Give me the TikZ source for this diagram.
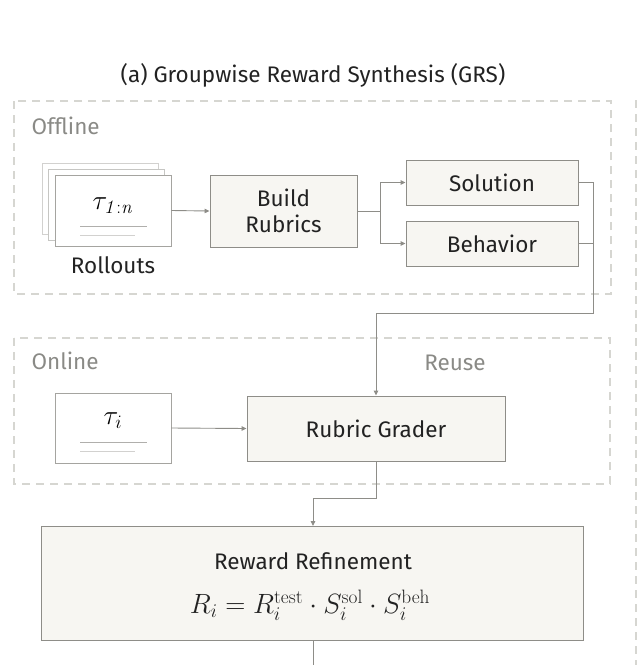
\documentclass[tikz,border=0pt]{standalone}
\usepackage[no-math]{fontspec}
\setmainfont{Fira Sans}
\usetikzlibrary{arrows.meta}
\definecolor{boxfill}{HTML}{F7F6F2}
\definecolor{boxline}{HTML}{8E8D88}
\definecolor{dash}{HTML}{D6D6D1}
\definecolor{lbl}{HTML}{8A8A86}
\definecolor{txt}{HTML}{222222}
\newcommand{\mysz}{\fontsize{22.5}{26}\selectfont}
\begin{document}
\begin{tikzpicture}[x=1pt,y=-1pt,
  box/.style={draw=boxline,fill=boxfill,line width=0.9pt,text=txt,font=\mysz,align=center,inner sep=0},
  paper/.style={draw=boxline!80,fill=white,line width=0.8pt},
  grp/.style={draw=dash,dashed,dash pattern=on 8pt off 6pt,line width=1.6pt},
  conn/.style={draw=boxline,line width=0.9pt},
  arr/.style={conn,-{Triangle[length=5pt,width=4.5pt]}},
  lab/.style={text=lbl,font=\mysz,anchor=west}]
\useasboundingbox (0,0) rectangle (640,665);
\node[font=\mysz,text=txt] (title) at (313,75) {(a) Groupwise Reward Synthesis (GRS)};
% groups
\draw[grp] (14,101) rectangle (611,294);
\draw[grp] (14,338) rectangle (610,484);
\draw[grp] (636,100) -- (636,665);
\node[lab] (off) at (28,126) {Offline};
\node[lab] (on) at (28,361) {Online};
\node[lab,anchor=center] (reuse) at (455,363) {Reuse};
% rollouts
\draw[paper,draw=boxline!40] (42,163) rectangle (158,234);
\draw[paper,draw=boxline!50] (48,169) rectangle (164,240);
\node[paper,minimum width=116pt,minimum height=71pt,inner sep=0] (roll) at (113,210.5) {};
\node[scale=1.1] (tau) at (113,206) {\fontsize{24}{28}\selectfont$\tau_{\mathit{1:n}}$};
\draw[boxline!70,line width=1pt] (80,226) -- (147,226);
\draw[boxline!40,line width=1pt] (80,235) -- (135,235);
\node[text=txt,font=\mysz] (rl) at (113,265) {Rollouts};
\node[box,minimum width=147pt,minimum height=72pt] (build) at (283.5,211) {Build\\Rubrics};
\node[box,minimum width=172pt,minimum height=45pt] (sol) at (492,182.5) {Solution};
\node[box,minimum width=172pt,minimum height=45pt] (beh) at (492,243.5) {Behavior};
\draw[arr] (roll.east) -- (build.west);
\coordinate (sp) at (380,211);
\draw[conn] (build.east) -- (sp);
\draw[arr] (sp) |- (sol.west);
\draw[arr] (sp) |- (beh.west);
% tau_i
\node[paper,minimum width=116pt,minimum height=70pt,inner sep=0] (ti) at (113,428) {};
\node[scale=1.1] (taui) at (113,421) {\fontsize{24}{28}\selectfont$\tau_{i}$};
\draw[boxline!70,line width=1pt] (80,442) -- (147,442);
\draw[boxline!40,line width=1pt] (80,451) -- (135,451);
\node[box,minimum width=258pt,minimum height=65pt] (rg) at (376,428.5) {Rubric Grader};
\draw[arr] (ti.east) -- (rg.west);
% feedback
\coordinate (c1) at (593,182.5);
\coordinate (c2) at (593,313);
\coordinate (c3) at (376,313);
\draw[conn] (sol.east) -- (c1) -- (c2) -- (c3);
\draw[conn] (beh.east) -- (593,243.5);
\draw[arr] (c3) -- (rg.north);
% reward refinement
\node[box,minimum width=542pt,minimum height=114pt] (rr) at (312,583) {};
\node[text=txt,font=\mysz] (rrt) at (313,561) {Reward Refinement};
\node[text=txt,scale=1.12,inner sep=0] (eq) at (310,605) {\fontsize{24}{28}\selectfont$R_i = R_i^{\mathrm{test}}\cdot S_i^{\mathrm{sol}}\cdot S_i^{\mathrm{beh}}$};
\coordinate (d1) at (376,498);
\coordinate (d2) at (313,498);
\draw[conn] (rg.south) -- (d1) -- (d2);
\draw[arr] (d2) -- (313,526);
\coordinate (bot) at (313,665);
\draw[conn] (313,640) -- (bot);
\end{tikzpicture}
\end{document}
